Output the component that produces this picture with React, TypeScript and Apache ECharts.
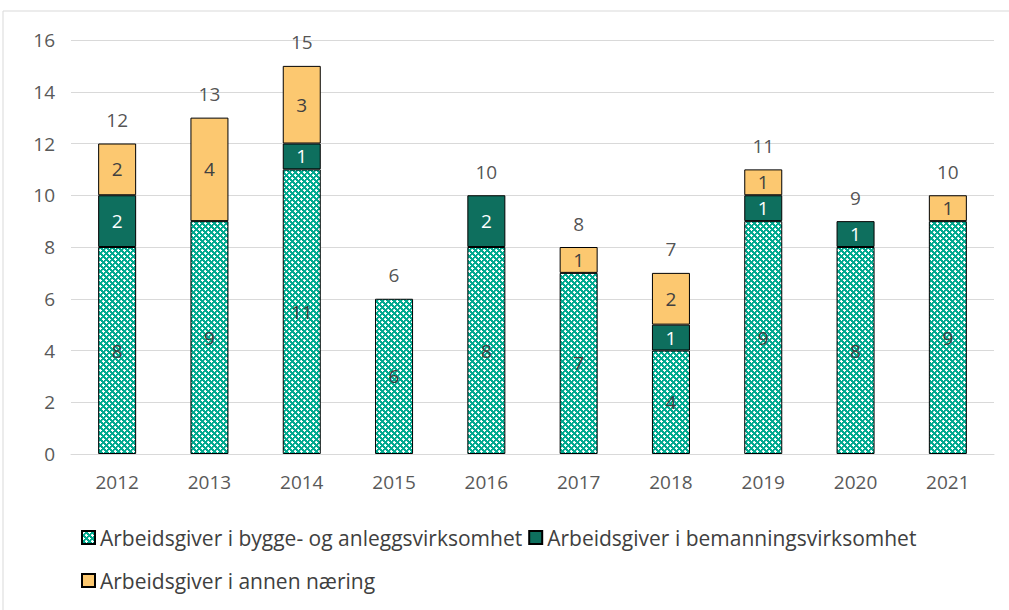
import React, { useEffect, useRef } from "react";
import * as echarts from "echarts";

const years = ["2012", "2013", "2014", "2015", "2016", "2017", "2018", "2019", "2020", "2021"];
const bygge = [8, 9, 11, 6, 8, 7, 4, 9, 8, 9];
const bemanning = [2, null, 1, null, 2, null, 1, 1, 1, null];
const annen = [2, 4, 3, null, null, 1, 2, 1, null, 1];
const totals = [12, 13, 15, 6, 10, 8, 7, 11, 9, 10];
const names = [
  "Arbeidsgiver i bygge- og anleggsvirksomhet",
  "Arbeidsgiver i bemanningsvirksomhet",
  "Arbeidsgiver i annen næring",
];

function makePattern(): HTMLCanvasElement {
  const c = document.createElement("canvas");
  c.width = 6;
  c.height = 6;
  const ctx = c.getContext("2d")!;
  ctx.fillStyle = "#00A98F";
  ctx.fillRect(0, 0, 6, 6);
  ctx.fillStyle = "#ffffff";
  // plus shapes
  ctx.fillRect(1, 0, 1, 3);
  ctx.fillRect(0, 1, 3, 1);
  ctx.fillRect(4, 3, 1, 3);
  ctx.fillRect(3, 4, 3, 1);
  ctx.fillStyle = "#8fdccf";
  ctx.fillRect(0, 0, 1, 1);
  ctx.fillRect(3, 3, 1, 1);
  return c;
}

export default function App() {
  const ref = useRef<HTMLDivElement>(null);
  useEffect(() => {
    document.body.style.margin = "0";
    const chart = echarts.init(ref.current!, null, { renderer: "svg" });
    const font = "'Open Sans', sans-serif";
    const pattern = { image: makePattern(), repeat: "repeat" } as any;
    const labelStyle = { show: true, position: "inside", fontSize: 19, color: "#404040", fontFamily: font };
    const legendText = { fontSize: 21, color: "#404040", fontFamily: font };
    chart.setOption({
      animation: false,
      backgroundColor: "#ffffff",
      textStyle: { fontFamily: font },
      graphic: [
        {
          type: "rect",
          shape: { x: 3, y: 11, width: 1200, height: 800 },
          style: { fill: "none", stroke: "#d9d9d9", lineWidth: 1 },
          silent: true,
        },
      ],
      grid: { left: 71, right: 15, top: 40, bottom: 156 },
      legend: [
        {
          data: [names[0], names[1]],
          left: 76,
          top: 522,
          icon: "rect",
          itemWidth: 13,
          itemHeight: 13,
          itemGap: 6,
          textStyle: legendText,
        },
        {
          data: [names[2]],
          left: 76,
          top: 565,
          icon: "rect",
          itemWidth: 13,
          itemHeight: 13,
          textStyle: legendText,
        },
      ],
      xAxis: {
        type: "category",
        data: years,
        axisLine: { lineStyle: { color: "#d9d9d9" } },
        axisTick: { show: false },
        axisLabel: { fontSize: 19, color: "#595959", margin: 18, fontFamily: font },
      },
      yAxis: {
        type: "value",
        min: 0,
        max: 16,
        interval: 2,
        axisLabel: { fontSize: 19, color: "#595959", margin: 16, fontFamily: font },
        splitLine: { lineStyle: { color: "#d9d9d9" } },
      },
      series: [
        {
          name: names[0],
          type: "bar",
          stack: "a",
          barWidth: 38,
          data: bygge,
          itemStyle: { color: pattern, borderColor: "#000", borderWidth: 1 },
          label: labelStyle,
        },
        {
          name: names[1],
          type: "bar",
          stack: "a",
          data: bemanning,
          itemStyle: { color: "#0E6F5E", borderColor: "#000", borderWidth: 1 },
          label: { ...labelStyle, color: "#ffffff" },
        },
        {
          name: names[2],
          type: "bar",
          stack: "a",
          data: annen,
          itemStyle: { color: "#FCC870", borderColor: "#000", borderWidth: 1 },
          label: labelStyle,
        },
        {
          name: "Total",
          type: "scatter",
          data: totals,
          symbolSize: 0,
          silent: true,
          label: { show: true, position: "top", distance: 14, fontSize: 19, color: "#262626", fontFamily: font },
        },
      ],
    });
    return () => chart.dispose();
  }, []);
  return <div ref={ref} style={{ width: 1009, height: 610 }} />;
}
